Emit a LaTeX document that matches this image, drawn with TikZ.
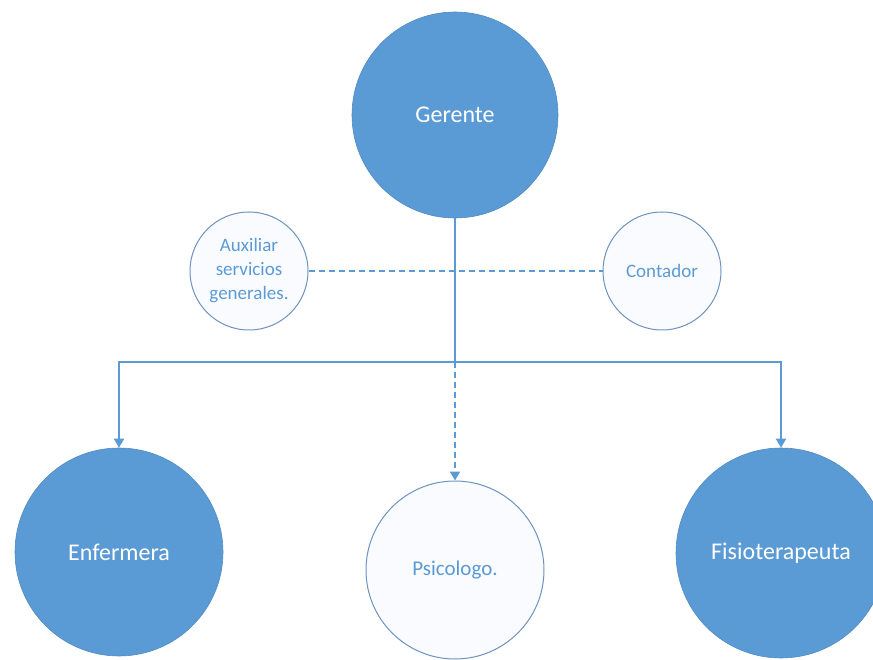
\documentclass[tikz,border=0pt]{standalone}
\usepackage{fontspec}
\setmainfont{Carlito}
\usetikzlibrary{arrows.meta}
\definecolor{accent}{HTML}{5B9BD5}
\definecolor{rimblue}{HTML}{6E93BE}
\definecolor{paleblue}{HTML}{F9FBFE}
\begin{document}
\begin{tikzpicture}[x=1pt,y=-1pt,
  bigcirc/.style={circle,fill=accent,draw=accent!90!black,line width=0.6pt,text=white,inner sep=0pt,font=\fontsize{24}{28}\selectfont},
  smallcirc/.style={circle,fill=paleblue,draw=rimblue,line width=1pt,text=accent,inner sep=0pt,align=center},
  solidlink/.style={draw=accent,line width=2pt},
  dashlink/.style={draw=accent,line width=2pt,dash pattern=on 6pt off 4pt},
  tip/.style={-{Triangle[width=10pt,length=9pt]}}]
\useasboundingbox (0,0) rectangle (873,660);
\node[bigcirc,minimum size=206pt] (G) at (455,115) {Gerente};
\node[smallcirc,minimum size=118pt,font=\fontsize{19}{24}\selectfont] (A) at (249,271) {Auxiliar\\servicios\\generales.};
\node[smallcirc,minimum size=118pt,font=\fontsize{19}{24}\selectfont] (C) at (662,271) {Contador};
\node[bigcirc,minimum size=208pt] (E) at (119,552) {Enfermera};
\node[smallcirc,minimum size=178pt,font=\fontsize{21}{25}\selectfont] (P) at (455,570) {Psicologo.};
\node[bigcirc,minimum size=210pt] (F) at (781,553) {Fisioterapeuta};
\coordinate (J) at (455,362);
\draw[dashlink] (A.east) -- (C.west);
\draw[solidlink] (G.south) -- (J);
\draw[solidlink,tip] (J) -| (E.north);
\draw[solidlink,tip] (J) -| (F.north);
\draw[dashlink,tip] (J) -- (P.north);
\end{tikzpicture}
\end{document}
